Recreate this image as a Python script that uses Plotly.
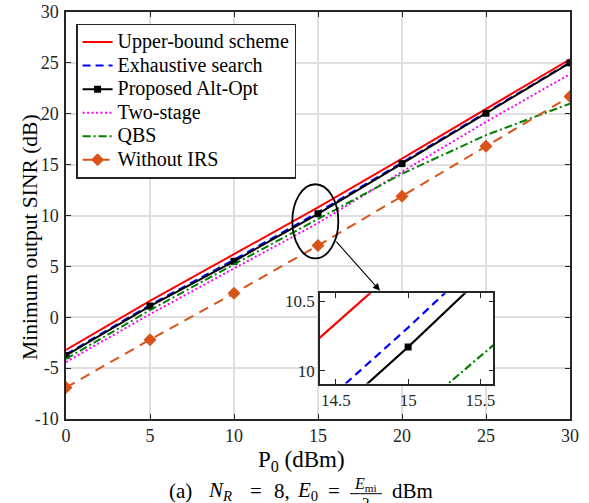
import plotly.graph_objects as go

# ---------------- data ----------------
p0 = [0, 5, 10, 15, 20, 25, 30]
upper_bound = [-3.2, 1.6, 6.2, 10.8, 15.6, 20.5, 25.35]
exhaustive = [-3.65, 1.2, 5.65, 10.31, 15.2, 20.1, 25.05]
proposed = [-3.75, 1.1, 5.5, 10.17, 15.1, 20.05, 25.0]
two_stage = [-4.4, 0.3, 4.8, 9.25, 14.3, 19.2, 23.9]
qbs = [-4.1, 0.7, 5.2, 9.66, 14.1, 17.9, 21.0]
without_irs = [-6.9, -2.2, 2.35, 7.05, 11.9, 16.8, 21.7]

x_ticks = [0, 5, 10, 15, 20, 25, 30]
y_ticks = [-10, -5, 0, 5, 10, 15, 20, 25, 30]
y_tick_text = ["-10", "-5", "0", "5", "10", "15", "20", "25", "30"]
inset_x_ticks = [14.5, 15, 15.5]
inset_y_ticks = [10, 10.5]
inset_y_text = ["10", "10.5"]

FONT = "Liberation Serif"
ORANGE = "#D95319"
AX = "#262626"

series = [
    dict(name="Upper-bound scheme", y=upper_bound, color="#FF0000", dash="solid", marker=None),
    dict(name="Exhaustive search", y=exhaustive, color="#0000FF", dash="8px,5px", marker=None),
    dict(name="Proposed Alt-Opt", y=proposed, color="#000000", dash="solid", marker="square"),
    dict(name="Two-stage", y=two_stage, color="#FF00FF", dash="2px,2.5px", marker=None),
    dict(name="QBS", y=qbs, color="#008000", dash="8px,3px,2px,3px", marker=None),
    dict(name="Without IRS", y=without_irs, color=ORANGE, dash="10px,7px", marker="diamond"),
]


def marker_for(s):
    if not s["marker"]:
        return None
    return dict(symbol=s["marker"], size=7 if s["marker"] == "square" else 10, color=s["color"])


fig = go.Figure()
for s in series:
    fig.add_trace(go.Scatter(x=p0, y=s["y"], mode="lines+markers" if s["marker"] else "lines",
                             name="<span style='font-size:20px'>" + s["name"] + "</span>",
                             line=dict(color=s["color"], dash=s["dash"], width=2),
                             marker=marker_for(s), xaxis="x", yaxis="y"))
for s in series:
    fig.add_trace(go.Scatter(x=p0, y=s["y"], mode="lines+markers" if s["marker"] else "lines",
                             name=s["name"],
                             line=dict(color=s["color"], dash=s["dash"], width=2.2),
                             marker=marker_for(s), xaxis="x2", yaxis="y2", showlegend=False))

axis_common = dict(showline=True, linecolor=AX, linewidth=1.5, mirror="ticks",
                   ticks="inside", ticklen=5, tickcolor=AX, zeroline=False,
                   automargin=False)
main_tick = dict(family=FONT, size=18, color=AX)
inset_tick = dict(family=FONT, size=17, color=AX)

fig.update_layout(
    width=589, height=503,
    margin=dict(l=66, r=19, t=11.5, b=83.5),
    paper_bgcolor="white", plot_bgcolor="white",
    font=dict(family=FONT, color="#000000"),
    xaxis=dict(range=[0, 30], tickvals=x_ticks, showgrid=True, gridcolor="#DFDFDF", gridwidth=1.5,
               tickfont=main_tick, **axis_common),
    yaxis=dict(range=[-10, 30], tickvals=y_ticks, ticktext=y_tick_text, showgrid=True,
               gridcolor="#DFDFDF", gridwidth=1.5, tickfont=main_tick, ticklabelstandoff=2,
               **axis_common),
    xaxis2=dict(domain=[0.504, 0.848], anchor="y2", range=[14.39, 15.59], tickvals=inset_x_ticks,
                showgrid=False, tickfont=inset_tick, **axis_common),
    yaxis2=dict(domain=[0.087, 0.309], anchor="x2", range=[9.907, 10.557], tickvals=inset_y_ticks,
                ticktext=inset_y_text, showgrid=False, tickfont=inset_tick, **axis_common),
    legend=dict(x=0.02, y=0.971, xanchor="left", yanchor="top", bgcolor="white",
                bordercolor=AX, borderwidth=1.5, font=dict(family=FONT, size=15.8),
                tracegroupgap=0, itemwidth=30),
    showlegend=True,
)

# axis titles (positioned as in the reference)
fig.add_annotation(x=-0.0714, y=0.445, xref="paper", yref="paper", xanchor="center", yanchor="middle",
                   text="Minimum output SINR (dB)", textangle=-90, showarrow=False,
                   font=dict(family=FONT, size=21.5, color="black"))
fig.add_annotation(x=0.468, y=-0.104, xref="paper", yref="paper", xanchor="center", yanchor="middle",
                   text="P<sub>0</sub> (dBm)", showarrow=False,
                   font=dict(family=FONT, size=23, color="black"))

# ellipse highlighting zoomed area
fig.add_shape(type="circle", xref="x", yref="y", x0=13.47, x1=16.21, y0=5.78, y1=13.07,
              line=dict(color="black", width=1.8))
# arrow to inset
fig.add_annotation(x=18.69, y=2.6, ax=16.01, ay=7.58, xref="x", yref="y", axref="x", ayref="y",
                   showarrow=True, arrowhead=2, arrowsize=1.3, arrowwidth=1.1, arrowcolor="black", text="")

# caption, piece by piece
cap_font = dict(family=FONT, size=21, color="black")
caption_pieces = [
    ("(a)", 0.2262),
    ("<i>N</i><sub><i>R</i></sub>", 0.3056),
    ("=", 0.3770),
    ("8,", 0.4276),
    ("<i>E</i><sub>0</sub>", 0.4792),
    ("=", 0.5308),
    ("dBm", 0.6875),
]
for txt, xp in caption_pieces:
    fig.add_annotation(x=xp, y=-0.178, xref="paper", yref="paper", xanchor="center", yanchor="middle",
                       text=txt, showarrow=False, font=cap_font)
fig.add_annotation(x=0.5952, y=-0.160, xref="paper", yref="paper", xanchor="center", yanchor="middle",
                   text="<i>E</i><sub>mi</sub>", showarrow=False, font=dict(family=FONT, size=16))
fig.add_annotation(x=0.5952, y=-0.206, xref="paper", yref="paper", xanchor="center", yanchor="middle",
                   text="2", showarrow=False, font=dict(family=FONT, size=15))
fig.add_shape(type="line", xref="paper", yref="paper", x0=0.5635, x1=0.6270, y0=-0.1835, y1=-0.1835,
              line=dict(color="black", width=1))

fig.write_html("out.html")
